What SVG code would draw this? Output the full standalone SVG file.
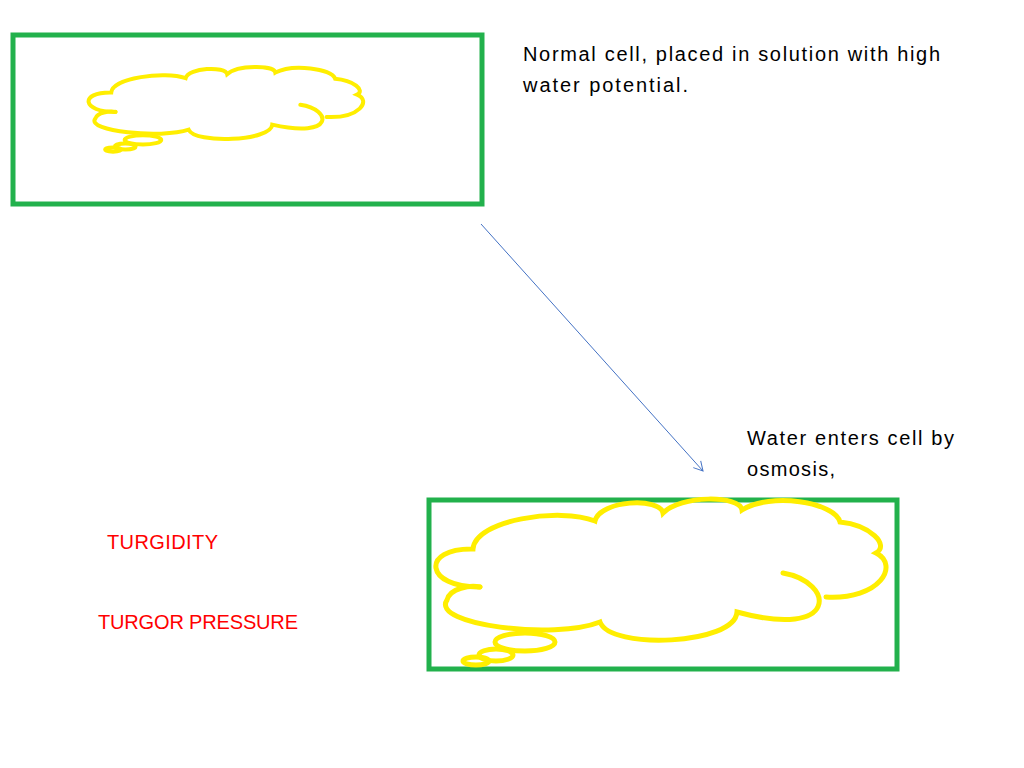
<svg xmlns="http://www.w3.org/2000/svg" xmlns:xlink="http://www.w3.org/1999/xlink" width="1024" height="768" viewBox="0 0 1024 768">
<style>
.box{fill:none;stroke:#22b14c;stroke-width:5}
.cl{fill:none;stroke:#ffee00;stroke-linecap:round;vector-effect:non-scaling-stroke}
.t{font-family:"Liberation Sans",Arial,sans-serif;font-size:20px;fill:#000}
.r{font-family:"Liberation Sans",Arial,sans-serif;font-size:20px;fill:#ff0000}
</style>
<defs>
<marker id="ah" markerWidth="12" markerHeight="12" refX="10" refY="6" orient="auto" markerUnits="userSpaceOnUse">
<path d="M1,1 L10,6 L1,11" fill="none" stroke="#4472c4" stroke-width="1"/>
</marker>
<g id="cloud">
<path class="cl" d="M480,587 C425,588 420,548 473,549 C475,520 560,507 595,521 C600,500 660,497 663,513 C680,495 740,495 742,510 C770,492 835,502 840,522 C870,525 890,545 876,553 C900,565 880,600 826,597"/>
<path class="cl" d="M783,573 C835,582 840,640 737,612 C735,645 610,650 600,622 C555,640 430,625 447,600 C450,588 470,585 480,587"/>
<ellipse class="cl" cx="525" cy="642" rx="30" ry="9"/>
<ellipse class="cl" cx="496" cy="655" rx="17" ry="6"/>
<ellipse class="cl" cx="476" cy="661" rx="13" ry="4"/>
</g>
</defs>
<g id="cell1">
<rect class="box" x="13" y="35" width="469" height="169"/>
<use xlink:href="#cloud" transform="matrix(0.61,0,0,0.51,-177.3,-187.5)" style="stroke-width:4"/>
</g>
<g id="cell2">
<rect class="box" x="429" y="500" width="468" height="169"/>
<use xlink:href="#cloud" style="stroke-width:5"/>
</g>
<g id="connectors">
<line x1="481" y1="224" x2="703" y2="471" stroke="#4472c4" stroke-width="1" marker-end="url(#ah)"/>
</g>
<g id="labels">
<text class="t" x="523" y="61" textLength="417">Normal cell, placed in solution with high</text>
<text class="t" x="523" y="92" textLength="165">water potential.</text>
<text class="t" x="747" y="445" textLength="207">Water enters cell by</text>
<text class="t" x="747" y="476" textLength="88">osmosis,</text>
<text class="r" x="107" y="549" textLength="111">TURGIDITY</text>
<text class="r" x="98" y="629" textLength="200">TURGOR PRESSURE</text>
</g>
</svg>
